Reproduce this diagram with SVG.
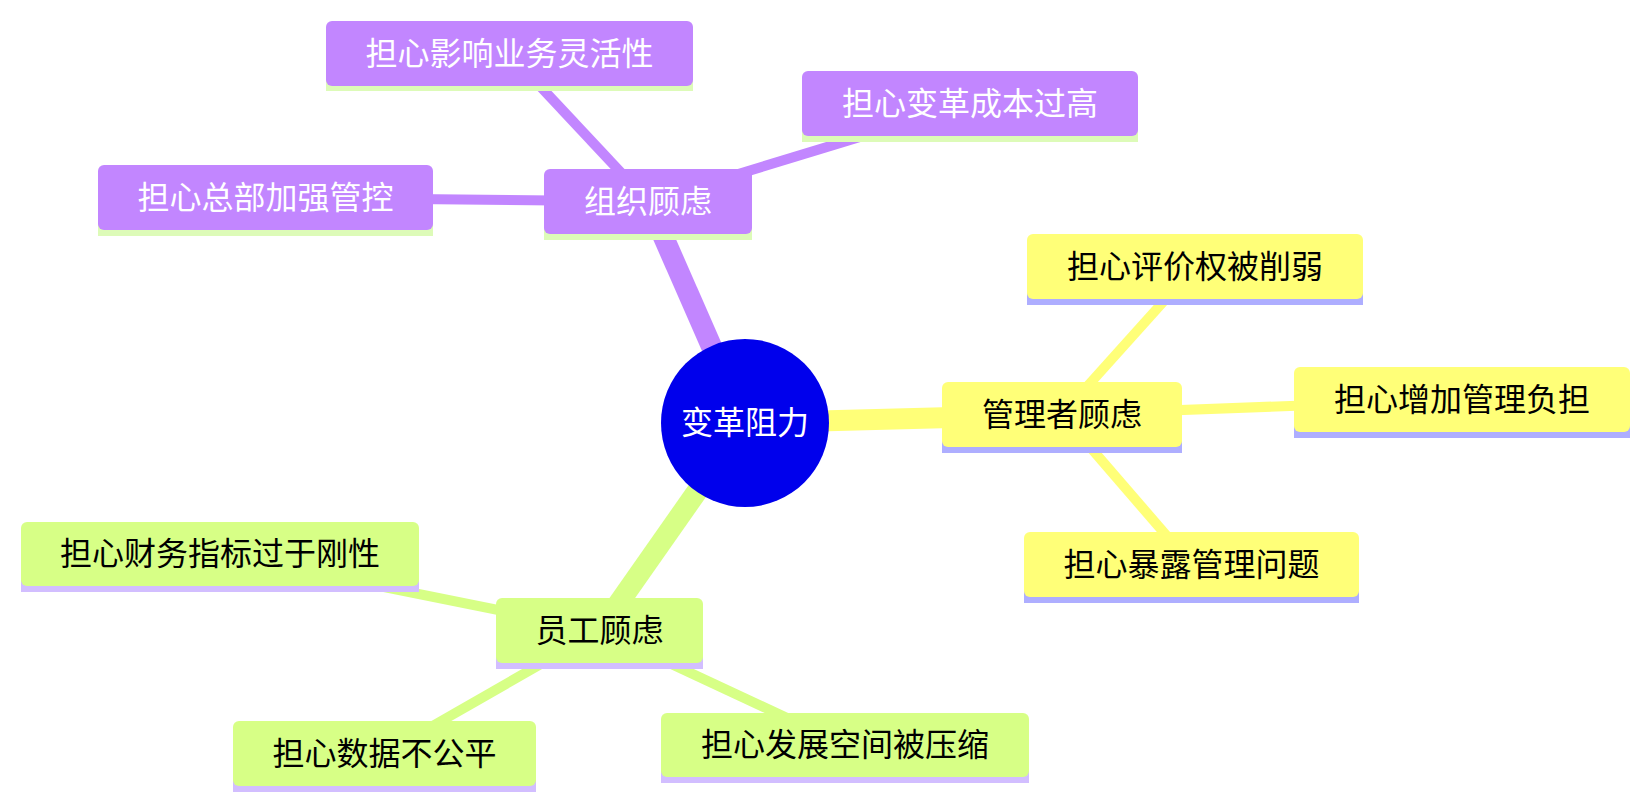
<svg xmlns="http://www.w3.org/2000/svg" width="1649" height="809" viewBox="0 0 1649 809">
<style>
text{font-family:"Noto Sans CJK SC","Noto Sans",sans-serif;font-size:32px;text-anchor:middle}
.e{fill:none;stroke-linecap:butt}
.d0{stroke-width:21}
.d1{stroke-width:10}
.s0{stroke:#FFFF78}.s1{stroke:#D7FF86}.s2{stroke:#C286FF}
.n0 rect.b{fill:#FFFF78}.n0 rect.u{fill:#AEAEFF}.n0 text{fill:#000}
.n1 rect.b{fill:#D7FF86}.n1 rect.u{fill:#D2BEFF}.n1 text{fill:#000}
.n2 rect.b{fill:#C286FF}.n2 rect.u{fill:#DDFBB8}.n2 text{fill:#fff}
</style>
<rect width="1649" height="809" fill="#fff"/>
<g id="connectors">
<line class="e d0 s2" x1="745" y1="423" x2="648" y2="201.5"/>
<line class="e d0 s0" x1="745" y1="423" x2="1062" y2="414.5"/>
<line class="e d0 s1" x1="745" y1="423" x2="599.5" y2="630.5"/>
<line class="e d1 s2" x1="648" y1="201.5" x2="509.5" y2="53.5"/>
<line class="e d1 s2" x1="648" y1="201.5" x2="970" y2="103.5"/>
<line class="e d1 s2" x1="648" y1="201.5" x2="265.5" y2="197.5"/>
<line class="e d1 s0" x1="1062" y1="414.5" x2="1195" y2="266.5"/>
<line class="e d1 s0" x1="1062" y1="414.5" x2="1462" y2="399.5"/>
<line class="e d1 s0" x1="1062" y1="414.5" x2="1191.5" y2="564.5"/>
<line class="e d1 s1" x1="599.5" y1="630.5" x2="220" y2="554"/>
<line class="e d1 s1" x1="599.5" y1="630.5" x2="384.5" y2="753.5"/>
<line class="e d1 s1" x1="599.5" y1="630.5" x2="845" y2="745"/>
</g>
<g id="root">
<circle cx="745" cy="423" r="84" fill="#0000EC"/>
<text x="745" y="434" fill="#fff">变革阻力</text>
</g>
<g id="org" class="n2">
<rect class="u" x="544" y="228" width="208" height="12"/>
<rect class="b" x="544" y="169" width="208" height="65" rx="6"/>
<text x="648" y="213">组织顾虑</text>
</g>
<g id="org1" class="n2">
<rect class="u" x="326" y="80" width="367" height="11"/>
<rect class="b" x="326" y="21" width="367" height="65" rx="6"/>
<text x="509.5" y="65">担心影响业务灵活性</text>
</g>
<g id="org2" class="n2">
<rect class="u" x="802" y="130" width="336" height="12"/>
<rect class="b" x="802" y="71" width="336" height="65" rx="6"/>
<text x="970" y="115">担心变革成本过高</text>
</g>
<g id="org3" class="n2">
<rect class="u" x="98" y="224" width="335" height="12"/>
<rect class="b" x="98" y="165" width="335" height="65" rx="6"/>
<text x="265.5" y="209">担心总部加强管控</text>
</g>
<g id="mgr" class="n0">
<rect class="u" x="942" y="441" width="240" height="12"/>
<rect class="b" x="942" y="382" width="240" height="65" rx="6"/>
<text x="1062" y="426">管理者顾虑</text>
</g>
<g id="mgr1" class="n0">
<rect class="u" x="1027" y="293" width="336" height="12"/>
<rect class="b" x="1027" y="234" width="336" height="65" rx="6"/>
<text x="1195" y="278">担心评价权被削弱</text>
</g>
<g id="mgr2" class="n0">
<rect class="u" x="1294" y="426" width="336" height="12"/>
<rect class="b" x="1294" y="367" width="336" height="65" rx="6"/>
<text x="1462" y="411">担心增加管理负担</text>
</g>
<g id="mgr3" class="n0">
<rect class="u" x="1024" y="591" width="335" height="12"/>
<rect class="b" x="1024" y="532" width="335" height="65" rx="6"/>
<text x="1191.5" y="576">担心暴露管理问题</text>
</g>
<g id="emp" class="n1">
<rect class="u" x="496" y="657" width="207" height="12"/>
<rect class="b" x="496" y="598" width="207" height="65" rx="6"/>
<text x="599.5" y="642">员工顾虑</text>
</g>
<g id="emp1" class="n1">
<rect class="u" x="21" y="580" width="398" height="12"/>
<rect class="b" x="21" y="522" width="398" height="64" rx="6"/>
<text x="220" y="565">担心财务指标过于刚性</text>
</g>
<g id="emp2" class="n1">
<rect class="u" x="233" y="780" width="303" height="12"/>
<rect class="b" x="233" y="721" width="303" height="65" rx="6"/>
<text x="384.5" y="765">担心数据不公平</text>
</g>
<g id="emp3" class="n1">
<rect class="u" x="661" y="771" width="368" height="12"/>
<rect class="b" x="661" y="713" width="368" height="64" rx="6"/>
<text x="845" y="756">担心发展空间被压缩</text>
</g>
</svg>
